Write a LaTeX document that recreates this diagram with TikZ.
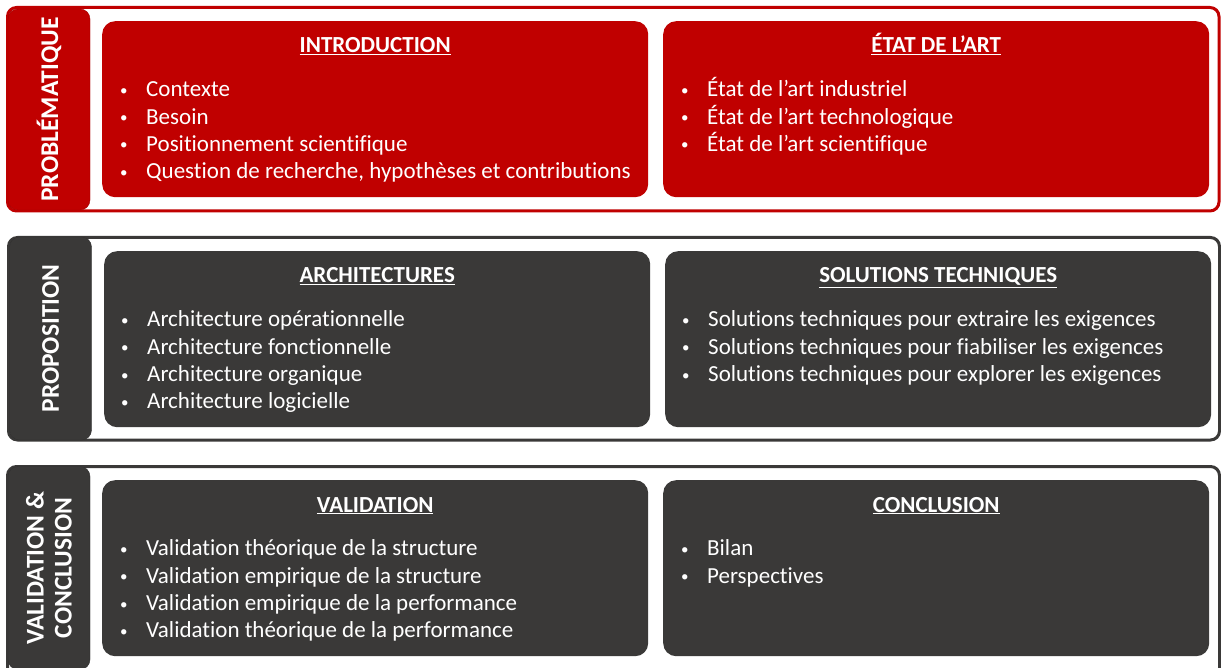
\documentclass[tikz,border=0pt]{standalone}
\usepackage{fontspec}
\setmainfont{Carlito}[Ligatures=NoCommon]
\usetikzlibrary{positioning}

\definecolor{plred}{HTML}{C00000}
\definecolor{pldark}{HTML}{3A3938}
\newcommand{\itm}[1]{\rule[-3pt]{0pt}{24pt}%
  \makebox[26pt][l]{\raisebox{1.5pt}{\fontsize{15}{15}\selectfont\textbullet}}#1}

\begin{document}
\begin{tikzpicture}[x=1pt,y=-1pt,
  rowframe/.style={draw=#1, line width=3pt, fill=white, rounded corners=9pt},
  tab/.style={fill=#1, draw=#1!85!black, rounded corners=10pt, rotate=90,
    minimum height=82pt, inner sep=0pt, text=white, align=center,
    font=\bfseries\fontsize{25.5}{28}\selectfont},
  panel/.style={fill=#1, rounded corners=13pt, minimum width=546pt,
    minimum height=176pt, anchor=north west, inner sep=0pt},
  head/.style={text=white, anchor=base, inner sep=0pt,
    font=\bfseries\fontsize{23}{27}\selectfont},
  items/.style={text=white, anchor=north west, align=left, inner sep=0pt,
    font=\fontsize{23}{27.4}\selectfont}]

\useasboundingbox (0,0) rectangle (1221,668);

% row frames
\draw[rowframe=plred]  (7.5,7.5)   rectangle (1219,211);
\draw[rowframe=pldark] (8.5,237.5) rectangle (1219.5,440);
\draw[rowframe=pldark] (7.5,466.5) rectangle (1219.5,700);

% side tabs
\node[tab=plred, minimum width=201pt]  (probtab) at (49,109.5) {PROBLÉMATIQUE};
\node[tab=pldark, minimum width=203pt] (proptab) at (50.5,338.5) {PROPOSITION};
\node[tab=pldark, minimum width=203pt] (valtab)  at (49,568) {VALIDATION \&\\CONCLUSION};

% row 1
\node[panel=plred] (intro) at (102,21) {};
\node[head] (introhead) at ([yshift=-32pt]intro.north) {\underline{INTRODUCTION}};
\node[items] (introlist) at ([xshift=18pt,yshift=-54.5pt]intro.north west)
  {\itm{Contexte}\\ \itm{Besoin}\\ \itm{Positionnement scientifique}\\
   \itm{Question de recherche, hypothèses et contributions}};

\node[panel=plred] (etat) at (663,21) {};
\node[head] (etathead) at ([yshift=-32pt]etat.north) {\underline{ÉTAT DE L’ART}};
\node[items] (etatlist) at ([xshift=18pt,yshift=-54.5pt]etat.north west)
  {\itm{État de l’art industriel}\\ \itm{État de l’art technologique}\\
   \itm{État de l’art scientifique}};

% row 2
\node[panel=pldark] (archi) at (104,251) {};
\node[head] (archihead) at ([yshift=-32pt]archi.north) {\underline{ARCHITECTURES}};
\node[items] (archilist) at ([xshift=17pt,yshift=-54.5pt]archi.north west)
  {\itm{Architecture opérationnelle}\\ \itm{Architecture fonctionnelle}\\
   \itm{Architecture organique}\\ \itm{Architecture logicielle}};

\node[panel=pldark] (solu) at (665,251) {};
\node[head] (soluhead) at ([yshift=-32pt]solu.north) {\underline{SOLUTIONS TECHNIQUES}};
\node[items] (solulist) at ([xshift=17pt,yshift=-54.5pt]solu.north west)
  {\itm{Solutions techniques pour extraire les exigences}\\
   \itm{Solutions techniques pour fiabiliser les exigences}\\
   \itm{Solutions techniques pour explorer les exigences}};

% row 3
\node[panel=pldark] (valid) at (102,480) {};
\node[head] (validhead) at ([yshift=-32pt]valid.north) {\underline{VALIDATION}};
\node[items] (validlist) at ([xshift=18pt,yshift=-54.5pt]valid.north west)
  {\itm{Validation théorique de la structure}\\ \itm{Validation empirique de la structure}\\
   \itm{Validation empirique de la performance}\\ \itm{Validation théorique de la performance}};

\node[panel=pldark] (concl) at (663,480) {};
\node[head] (conclhead) at ([yshift=-32pt]concl.north) {\underline{CONCLUSION}};
\node[items] (concllist) at ([xshift=18pt,yshift=-54.5pt]concl.north west)
  {\itm{Bilan}\\ \itm{Perspectives}};

\end{tikzpicture}
\end{document}
